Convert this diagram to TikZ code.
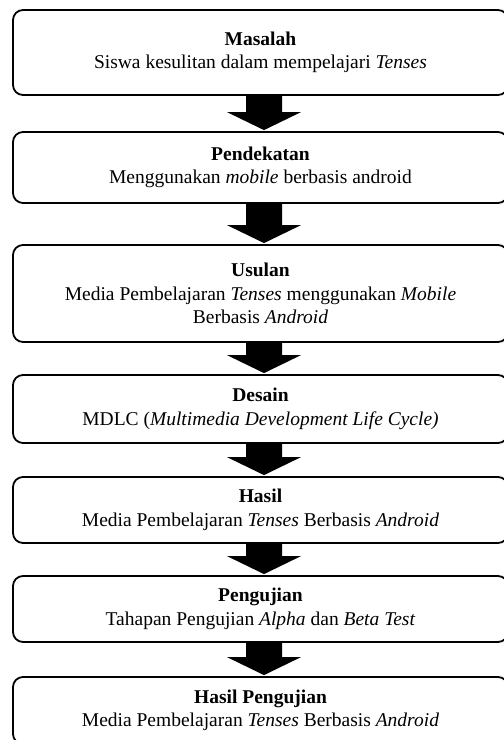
\documentclass[tikz,border=0pt]{standalone}
\usepackage{fontspec}
\setmainfont{Liberation Serif}
\usetikzlibrary{calc}
\tikzset{
  flowbox/.style={draw=black, line width=1.8pt, rounded corners=10pt, fill=white,
    minimum width=495pt, inner sep=0pt, align=center,
    font=\fontsize{19.5pt}{23.5pt}\selectfont},
  blockarrow/.style={fill=black, draw=none}
}
\newcommand\blkarrow[2]{%
  \fill[blockarrow] ($(#1.south -| ax)+(-18,-1)$) -- ($(#1.south -| ax)+(18,-1)$)
    -- ($(#2.north -| ax)+(18,-19)$) -- ($(#2.north -| ax)+(37,-19)$)
    -- ($(#2.north -| ax)+(0,-1)$) -- ($(#2.north -| ax)+(-37,-19)$)
    -- ($(#2.north -| ax)+(-18,-19)$) -- cycle;}
\begin{document}
\begin{tikzpicture}[x=1pt,y=-1pt]
\useasboundingbox (0,0) rectangle (504,740);
\coordinate (ax) at (264,0);
\node[flowbox, minimum height=85pt] (b1) at (260.5,52.5)
  {\textbf{Masalah}\\Siswa kesulitan dalam mempelajari \textit{Tenses}};
\node[flowbox, minimum height=71pt] (b2) at (260.5,167.5)
  {\textbf{Pendekatan}\\Menggunakan \textit{mobile} berbasis android};
\node[flowbox, minimum height=97pt] (b3) at (260.5,293.5)
  {\textbf{Usulan}\\Media Pembelajaran \textit{Tenses} menggunakan \textit{Mobile}\\Berbasis \textit{Android}};
\node[flowbox, minimum height=68pt] (b4) at (260.5,409)
  {\textbf{Desain}\\MDLC (\textit{Multimedia Development Life Cycle)}};
\node[flowbox, minimum height=66pt] (b5) at (260.5,510)
  {\textbf{Hasil}\\Media Pembelajaran \textit{Tenses} Berbasis \textit{Android}};
\node[flowbox, minimum height=66pt] (b6) at (260.5,609)
  {\textbf{Pengujian}\\Tahapan Pengujian \textit{Alpha} dan \textit{Beta Test}};
\node[flowbox, minimum height=67pt] (b7) at (260.5,710.5)
  {\textbf{Hasil Pengujian}\\Media Pembelajaran \textit{Tenses} Berbasis \textit{Android}};
\blkarrow{b1}{b2}
\blkarrow{b2}{b3}
\blkarrow{b3}{b4}
\blkarrow{b4}{b5}
\blkarrow{b5}{b6}
\blkarrow{b6}{b7}
\end{tikzpicture}
\end{document}
